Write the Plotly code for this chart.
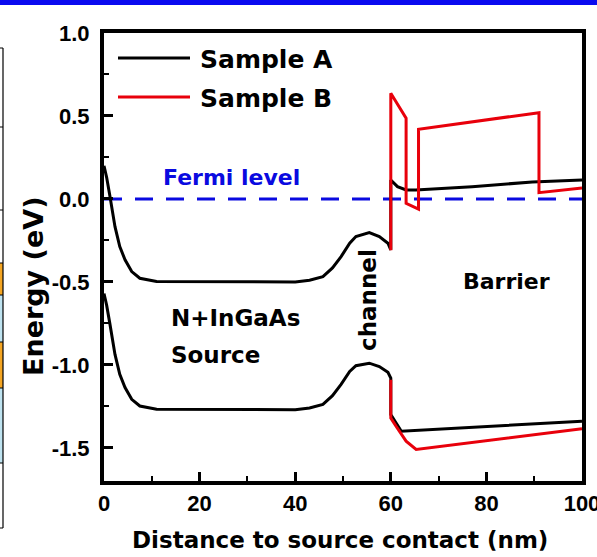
import plotly.graph_objects as go

# ---- data ----
a_cb_x = [0, 0.55, 1.25, 2.3, 3.3, 4.4, 5.8, 7.5, 11, 20, 30, 40, 43, 45.8, 47.8, 49.6, 51.4, 52.7, 55.5, 57.6, 59.4, 60.0,
          60.0, 61.4, 63.2, 65.2, 77, 89.6, 100]
a_cb_y = [0.20, 0.13, 0.014, -0.167, -0.287, -0.367, -0.438, -0.478, -0.498, -0.50, -0.50, -0.50, -0.49, -0.468, -0.416,
          -0.348, -0.267, -0.227, -0.203, -0.227, -0.267, -0.307,
          0.114, 0.074, 0.054, 0.054, 0.074, 0.102, 0.114]
a_vb_x = [0, 0.55, 1.25, 2.3, 3.3, 4.4, 5.8, 7.5, 11, 20, 30, 40, 43, 45.8, 47.8, 49.6, 51.4, 52.7, 55.5, 57.6, 59.4, 60.0,
          60.0, 62.2, 100]
a_vb_y = [-0.57, -0.64, -0.756, -0.937, -1.057, -1.137, -1.208, -1.248, -1.268, -1.27, -1.27, -1.27, -1.26, -1.238, -1.186,
          -1.118, -1.04, -1.005, -0.99, -1.01, -1.045, -1.08,
          -1.30, -1.40, -1.34]
b_cb_x = [60.0, 60.0, 63.2, 63.2, 65.8, 65.8, 91.0, 91.0, 100]
b_cb_y = [-0.31, 0.637, 0.486, -0.026, -0.062, 0.42, 0.52, 0.038, 0.066]
b_vb_x = [60.0, 60.0, 61.1, 63.2, 65.3, 82, 100]
b_vb_y = [-1.09, -1.32, -1.37, -1.46, -1.51, -1.45, -1.385]
fermi_x = [0, 100]
fermi_y = [0, 0]

x_ticks = [0, 20, 40, 60, 80, 100]
y_ticks = [-1.5, -1.0, -0.5, 0.0, 0.5, 1.0]
y_tick_text = ["-1.5", "-1.0", "-0.5", "0.0", "0.5", "1.0"]

W, H = 597, 557
L, R, T, B = 104, 15, 33, 76
PW, PH = W - L - R, H - T - B


def px(xp):
    return (xp - L) / PW


def py(yp):
    return (H - B - yp) / PH


BLACK = "#000000"
RED = "#e8000b"
BLUE = "#0a0ae0"
LW = 3
TICKFONT = dict(family="Liberation Sans, Arial", size=22, color="black", weight="bold")

fig = go.Figure()
fig.add_trace(go.Scatter(x=fermi_x, y=fermi_y, mode="lines", line=dict(color=BLUE, width=3, dash="18px,13px"),
                         name="Fermi level", showlegend=False))
fig.add_trace(go.Scatter(x=a_cb_x, y=a_cb_y, mode="lines", line=dict(color=BLACK, width=LW), name="Sample A",
                         showlegend=False))
fig.add_trace(go.Scatter(x=a_vb_x, y=a_vb_y, mode="lines", line=dict(color=BLACK, width=LW), name="Sample A",
                         showlegend=False))
fig.add_trace(go.Scatter(x=b_cb_x, y=b_cb_y, mode="lines", line=dict(color=RED, width=LW), name="Sample B",
                         showlegend=False))
fig.add_trace(go.Scatter(x=b_vb_x, y=b_vb_y, mode="lines", line=dict(color=RED, width=LW), name="Sample B",
                         showlegend=False))

axis_common = dict(showgrid=False, zeroline=False, showline=True, linecolor="black", linewidth=4, mirror=True,
                   ticks="inside", ticklen=9, tickwidth=3, tickcolor="black", tickfont=TICKFONT,
                   ticklabeloverflow="allow", automargin=False)
fig.update_xaxes(range=[0, 100], tickvals=x_ticks, ticklabelstandoff=0,
                 minor=dict(ticks="inside", ticklen=5, tickwidth=2, dtick=10, tickcolor="black"), **axis_common)
fig.update_yaxes(range=[-1.7, 1.0], tickvals=y_ticks, ticktext=y_tick_text, ticklabelstandoff=6,
                 minor=dict(ticks="inside", ticklen=5, tickwidth=2, tickvals=[-1.25, -0.75, -0.25, 0.25, 0.75],
                            tickcolor="black"), **axis_common)

LABEL = dict(family="DejaVu Sans", size=23, color="black", weight="bold")
ann = []
# axis titles
ann.append(dict(text="Distance to source contact (nm)", xref="paper", yref="paper", x=px(340), y=py(540),
                showarrow=False, font=LABEL, xanchor="center", yanchor="middle"))
ann.append(dict(text="Energy (eV)", xref="paper", yref="paper", x=px(33), y=py(286), textangle=-90,
                showarrow=False, font=dict(LABEL, size=27), xanchor="center", yanchor="middle"))
# region labels
ann.append(dict(text="Fermi level", x=26.6, y=0.127, showarrow=False, font=dict(LABEL, color=BLUE, size=22),
                xanchor="center", yanchor="middle"))
ann.append(dict(text="N+InGaAs", x=13.5, y=-0.72, showarrow=False, font=dict(LABEL, size=23),
                xanchor="left", yanchor="middle"))
ann.append(dict(text="Source", x=13.5, y=-0.94, showarrow=False, font=dict(LABEL, size=23),
                xanchor="left", yanchor="middle"))
ann.append(dict(text="channel", x=55.2, y=-0.61, showarrow=False, textangle=-90, font=dict(LABEL, size=23),
                xanchor="center", yanchor="middle"))
ann.append(dict(text="Barrier", x=84.1, y=-0.5, showarrow=False, font=dict(LABEL, size=22),
                xanchor="center", yanchor="middle"))
# manual legend text
ann.append(dict(text="Sample A", xref="paper", yref="paper", x=px(198), y=py(59), showarrow=False,
                font=dict(LABEL, size=25), xanchor="left", yanchor="middle"))
ann.append(dict(text="Sample B", xref="paper", yref="paper", x=px(198), y=py(98), showarrow=False,
                font=dict(LABEL, size=25), xanchor="left", yanchor="middle"))

shapes = []
# manual legend lines
shapes.append(dict(type="line", xref="paper", yref="paper", x0=px(118), x1=px(190), y0=py(58), y1=py(58),
                   line=dict(color=BLACK, width=LW)))
shapes.append(dict(type="line", xref="paper", yref="paper", x0=px(118), x1=px(190), y0=py(97), y1=py(97),
                   line=dict(color=RED, width=LW)))
# slide decorations: blue title bar and cropped table edge on the left
shapes.append(dict(type="rect", xref="paper", yref="paper", x0=px(0), x1=px(597), y0=py(0), y1=py(5),
                   fillcolor="#0a0af0", line=dict(width=0), layer="below"))
for (y0, y1, c) in [(263, 295, "#f5a623"), (295, 342, "#bfe3f0"), (342, 388, "#f5a623"), (388, 463, "#bfe3f0")]:
    shapes.append(dict(type="rect", xref="paper", yref="paper", x0=px(0), x1=px(3), y0=py(y0), y1=py(y1),
                       fillcolor=c, line=dict(width=0), layer="below"))
shapes.append(dict(type="line", xref="paper", yref="paper", x0=px(3), x1=px(3), y0=py(48), y1=py(528),
                   line=dict(color="black", width=1.2)))
for yy in [48, 127, 210, 263, 295, 342, 388, 463, 528]:
    shapes.append(dict(type="line", xref="paper", yref="paper", x0=px(0), x1=px(3), y0=py(yy), y1=py(yy),
                       line=dict(color="black", width=1)))

fig.update_layout(width=W, height=H, margin=dict(l=L, r=R, t=T, b=B, autoexpand=False), paper_bgcolor="white",
                  plot_bgcolor="white", annotations=ann, shapes=shapes, showlegend=False)

fig.write_html("out.html", config={"displayModeBar": False},
               post_script="document.body.style.margin='0px';document.body.style.overflow='hidden';")
